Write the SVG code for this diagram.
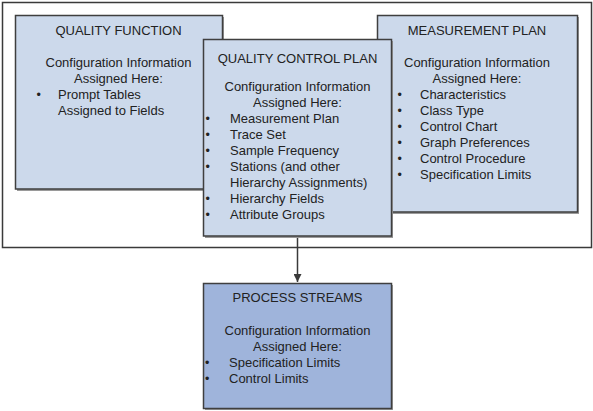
<svg xmlns="http://www.w3.org/2000/svg" width="593" height="411" viewBox="0 0 593 411">
<defs>
<style>
.frame{fill:#ffffff;stroke:#3a3a3a;stroke-width:1.5}
.box{fill:#ccd9eb;stroke:#3f3f3f;stroke-width:1.5}
.dark{fill:#9fb4db;stroke:#3f3f3f;stroke-width:1.5}
.shadow{fill:#9a9a9a}
text{font-family:"Liberation Sans",Arial,sans-serif;font-size:13px;fill:#222222}
.b{font-size:12.5px}
.c{text-anchor:middle}
.conn{stroke:#3a3a3a;stroke-width:1.5;fill:none}
</style>
<marker id="arrow" viewBox="0 0 10 10" refX="10" refY="5" markerWidth="8" markerHeight="8" markerUnits="userSpaceOnUse" orient="auto">
<path d="M0,0 L10,5 L0,10 z" fill="#3a3a3a"/>
</marker>
</defs>
<rect width="593" height="411" fill="#ffffff"/>
<rect id="frame" class="frame" x="2.5" y="2.5" width="589" height="245"/>
<g id="connectors">
<line class="conn" x1="297.5" y1="236" x2="297.5" y2="282" marker-end="url(#arrow)"/>
</g>
<g id="quality-function">
<rect class="shadow" x="17" y="17" width="207" height="174"/>
<rect class="box" x="15.5" y="15.5" width="207" height="173.5"/>
<text class="c" x="118.5" y="35">QUALITY FUNCTION</text>
<text class="c" x="118.5" y="67">Configuration Information</text>
<text class="c" x="118.5" y="83">Assigned Here:</text>
<text class="b" x="36.5" y="99">•</text>
<text x="58" y="99">Prompt Tables</text>
<text x="58" y="115">Assigned to Fields</text>
</g>
<g id="measurement-plan">
<rect class="shadow" x="379" y="17" width="200" height="197"/>
<rect class="box" x="377.5" y="15.5" width="200" height="196.5"/>
<text class="c" x="477" y="35">MEASUREMENT PLAN</text>
<text class="c" x="477" y="67">Configuration Information</text>
<text class="c" x="477" y="83">Assigned Here:</text>
<text class="b" x="397.5" y="99">•</text><text x="420" y="99">Characteristics</text>
<text class="b" x="397.5" y="115">•</text><text x="420" y="115">Class Type</text>
<text class="b" x="397.5" y="131">•</text><text x="420" y="131">Control Chart</text>
<text class="b" x="397.5" y="147">•</text><text x="420" y="147">Graph Preferences</text>
<text class="b" x="397.5" y="163">•</text><text x="420" y="163">Control Procedure</text>
<text class="b" x="397.5" y="179">•</text><text x="420" y="179">Specification Limits</text>
</g>
<g id="quality-control-plan">
<rect class="shadow" x="205" y="41" width="188" height="197"/>
<rect class="box" x="203.5" y="39.5" width="188" height="196.5"/>
<text class="c" x="297.5" y="62.5">QUALITY CONTROL PLAN</text>
<text class="c" x="297.5" y="90.5">Configuration Information</text>
<text class="c" x="297.5" y="106.5">Assigned Here:</text>
<text class="b" x="205.5" y="122.5">•</text><text x="230" y="122.5">Measurement Plan</text>
<text class="b" x="205.5" y="138.5">•</text><text x="230" y="138.5">Trace Set</text>
<text class="b" x="205.5" y="154.5">•</text><text x="230" y="154.5">Sample Frequency</text>
<text class="b" x="205.5" y="170.5">•</text><text x="230" y="170.5">Stations (and other</text>
<text x="230" y="186.5">Hierarchy Assignments)</text>
<text class="b" x="205.5" y="202.5">•</text><text x="230" y="202.5">Hierarchy Fields</text>
<text class="b" x="205.5" y="218.5">•</text><text x="230" y="218.5">Attribute Groups</text>
</g>
<g id="process-streams">
<rect class="shadow" x="205" y="285" width="188" height="125"/>
<rect class="dark" x="203.5" y="283.5" width="188" height="125"/>
<text class="c" x="297.5" y="302">PROCESS STREAMS</text>
<text class="c" x="297.5" y="335">Configuration Information</text>
<text class="c" x="297.5" y="351">Assigned Here:</text>
<text class="b" x="205" y="367">•</text><text x="229" y="367">Specification Limits</text>
<text class="b" x="205" y="383">•</text><text x="229" y="383">Control Limits</text>
</g>
</svg>
